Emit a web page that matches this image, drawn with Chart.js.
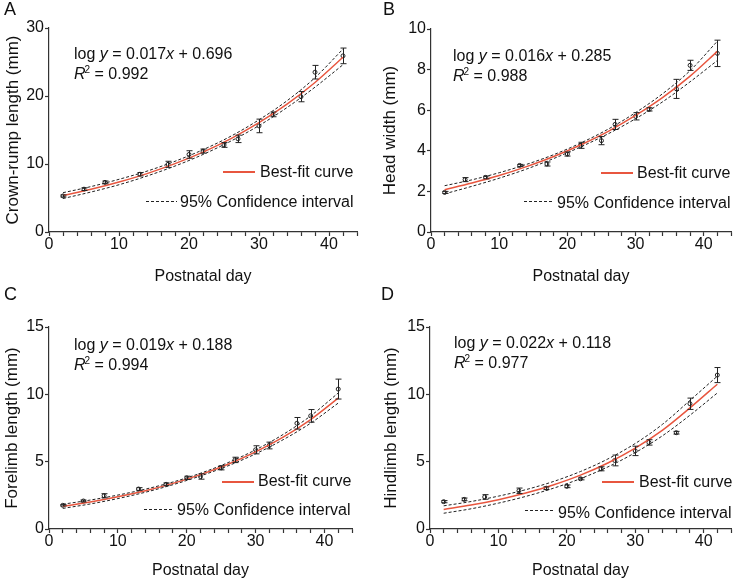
<!DOCTYPE html>
<html>
<head>
<meta charset="utf-8">
<script src="https://cdn.jsdelivr.net/npm/chart.js@4.4.1/dist/chart.umd.min.js"></script>
<style>
  body { margin: 0; background: #fff; }
  #wrap { position: relative; width: 736px; height: 580px; font-family: "Liberation Sans", Arial, sans-serif; color: #111; }
  canvas { position: absolute; }
  .txt { position: absolute; font-size: 16px; line-height: 18px; white-space: nowrap; }
  .letter { position: absolute; font-size: 18px; line-height: 20px; }
  .red { position: absolute; height: 2px; background: #e8563f; }
  .dash { position: absolute; height: 1px; background: repeating-linear-gradient(90deg, #222 0 3px, transparent 3px 5px); }
  sup { font-size: 10px; vertical-align: 6px; line-height: 0; margin-left: -1px; }
</style>
</head>
<body>
<div id="wrap"></div>
<script>
// postnatal days of the measurements
const days = [2, 5, 8, 13, 17, 20, 22, 25, 27, 30, 32, 36, 38, 42];
// days where the fitted curves are sampled
const fitDays = [2, 6, 10, 14, 18, 22, 26, 30, 34, 38, 42];

// A - crown-rump length
const crMean = [5.3, 6.3, 7.3, 8.5, 9.95, 11.4, 11.9, 12.8, 13.7, 15.6, 17.3, 19.9, 23.5, 25.9];
const crErr = [0.15, 0.2, 0.2, 0.25, 0.45, 0.55, 0.3, 0.35, 0.55, 1.0, 0.35, 0.75, 1.0, 1.15];
const crFit = [5.37, 6.28, 7.35, 8.59, 10.05, 11.75, 13.74, 16.07, 18.79, 21.98, 25.7];
const crUpper = [5.78, 6.68, 7.75, 8.95, 10.4, 12.1, 14.1, 16.5, 19.3, 22.7, 26.9];
const crLower = [4.92, 5.88, 6.95, 8.23, 9.7, 11.4, 13.38, 15.65, 18.3, 21.3, 24.6];

// B - head width
const hwMean = [1.95, 2.58, 2.69, 3.28, 3.35, 3.84, 4.27, 4.5, 5.3, 5.7, 6.04, 7.05, 8.21, 8.8];
const hwErr = [0.05, 0.1, 0.07, 0.05, 0.1, 0.1, 0.15, 0.2, 0.25, 0.18, 0.08, 0.47, 0.25, 0.65];
const hwFit = [2.08, 2.41, 2.78, 3.22, 3.72, 4.3, 4.96, 5.74, 6.63, 7.68, 8.9];
const hwUpper = [2.28, 2.57, 2.92, 3.33, 3.81, 4.39, 5.07, 5.88, 6.82, 7.95, 9.4];
const hwLower = [1.88, 2.25, 2.65, 3.1, 3.62, 4.2, 4.84, 5.58, 6.42, 7.4, 8.45];

// C - forelimb length
const flMean = [1.76, 2.08, 2.47, 2.97, 3.32, 3.8, 3.9, 4.54, 5.13, 5.88, 6.2, 7.85, 8.4, 10.39];
const flErr = [0.05, 0.07, 0.15, 0.1, 0.1, 0.12, 0.2, 0.15, 0.2, 0.3, 0.25, 0.43, 0.47, 0.74];
const flFit = [1.68, 2.0, 2.39, 2.84, 3.39, 4.04, 4.81, 5.73, 6.82, 8.13, 9.72];
const flUpper = [1.84, 2.15, 2.52, 2.96, 3.49, 4.14, 4.93, 5.88, 7.02, 8.4, 10.1];
const flLower = [1.53, 1.86, 2.26, 2.73, 3.29, 3.94, 4.69, 5.58, 6.63, 7.86, 9.35];

// D - hindlimb length
const hlMean = [2.03, 2.2, 2.38, 2.84, 3.03, 3.17, 3.73, 4.47, 5.09, 5.8, 6.43, 7.15, 9.3, 11.43];
const hlErr = [0.08, 0.1, 0.17, 0.2, 0.1, 0.1, 0.08, 0.15, 0.4, 0.35, 0.2, 0.1, 0.42, 0.56];
const hlFit = [1.45, 1.78, 2.18, 2.67, 3.27, 4.0, 4.9, 6.0, 7.34, 8.99, 10.75];
const hlUpper = [1.72, 2.04, 2.44, 2.92, 3.52, 4.27, 5.2, 6.35, 7.78, 9.55, 11.35];
const hlLower = [1.17, 1.5, 1.92, 2.42, 3.02, 3.74, 4.61, 5.67, 6.93, 8.45, 10.1];

const yTicksA = [0, 10, 20, 30];
const yTicksB = [0, 2, 4, 6, 8, 10];
const yTicksCD = [0, 5, 10, 15];

const axisColor = '#333';
const textColor = '#111';
const fitColor = '#e8563f';
const fontFamily = '"Liberation Sans", Arial, sans-serif';

const panels = [
  { id: 'A', cell: [0, 0], area: { left: 49, right: 357, top: 28, bottom: 232 }, ytitle: 'Crown-rump length (mm)', ytPad: 3, xtPad: 4,
    yTicks: yTicksA, mean: crMean, err: crErr, fit: crFit, upper: crUpper, lower: crLower,
    eq: ['0.017', '0.696', '0.992'], eqPos: [74, 45], letterPos: [4, -1],
    leg: { red: [223, 171, 32], redTxt: [260, 163], dash: [146, 201, 31], dashTxt: [180, 193] } },
  { id: 'B', cell: [368, 0], area: { left: 63, right: 367, top: 29, bottom: 232 }, ytitle: 'Head width (mm)', ytPad: 12, xtPad: 4,
    yTicks: yTicksB, mean: hwMean, err: hwErr, fit: hwFit, upper: hwUpper, lower: hwLower,
    eq: ['0.016', '0.285', '0.988'], eqPos: [453, 47], letterPos: [383, -1],
    leg: { red: [601, 172, 32], redTxt: [637, 164], dash: [524, 201, 29], dashTxt: [557, 194] } },
  { id: 'C', cell: [0, 290], area: { left: 49, right: 352, top: 37, bottom: 239 }, ytitle: 'Forelimb length (mm)', ytPad: 2, xtPad: 0,
    yTicks: yTicksCD, mean: flMean, err: flErr, fit: flFit, upper: flUpper, lower: flLower,
    eq: ['0.019', '0.188', '0.994'], eqPos: [74, 336], letterPos: [4, 284],
    leg: { red: [222, 481, 32], redTxt: [258, 472], dash: [144, 509, 29], dashTxt: [177, 501] } },
  { id: 'D', cell: [368, 290], area: { left: 62, right: 367, top: 37, bottom: 239 }, ytitle: 'Hindlimb length (mm)', ytPad: 13, xtPad: 0,
    yTicks: yTicksCD, mean: hlMean, err: hlErr, fit: hlFit, upper: hlUpper, lower: hlLower,
    eq: ['0.022', '0.118', '0.977'], eqPos: [454, 334], letterPos: [381, 284],
    leg: { red: [602, 481, 32], redTxt: [639, 473], dash: [525, 510, 30], dashTxt: [558, 504] } }
];

// vertical error bars with caps, drawn from the dataset's errors array
const errorBars = {
  id: 'errorBars',
  afterDatasetsDraw(chart) {
    const { ctx, scales: { x, y } } = chart;
    chart.data.datasets.forEach(ds => {
      if (!ds.errors) return;
      ctx.save();
      ctx.strokeStyle = '#222';
      ctx.lineWidth = 1;
      ds.data.forEach((p, j) => {
        const px = Math.round(x.getPixelForValue(p.x)) + 0.5;
        const top = y.getPixelForValue(p.y + ds.errors[j]);
        const bot = y.getPixelForValue(p.y - ds.errors[j]);
        ctx.beginPath();
        ctx.moveTo(px, top); ctx.lineTo(px, bot);
        ctx.moveTo(px - 3, top); ctx.lineTo(px + 3, top);
        ctx.moveTo(px - 3, bot); ctx.lineTo(px + 3, bot);
        ctx.stroke();
      });
      ctx.restore();
    });
  }
};

const wrap = document.getElementById('wrap');

function addDiv(cls, left, top, html, width) {
  const d = document.createElement('div');
  d.className = cls;
  d.style.left = left + 'px';
  d.style.top = top + 'px';
  if (width) d.style.width = width + 'px';
  if (html) d.innerHTML = html;
  wrap.appendChild(d);
}

function pts(xs, ys) {
  return xs.map((x, i) => ({ x: x, y: ys[i] }));
}

panels.forEach(p => {
  const cv = document.createElement('canvas');
  cv.width = 368; cv.height = 290;
  cv.style.left = p.cell[0] + 'px';
  cv.style.top = p.cell[1] + 'px';
  wrap.appendChild(cv);

  const a = p.area;
  const yMax = p.yTicks[p.yTicks.length - 1];
  const yStep = p.yTicks[1] - p.yTicks[0];
  const curve = { pointRadius: 0, fill: false, cubicInterpolationMode: 'monotone' };

  new Chart(cv, {
    type: 'line',
    data: {
      datasets: [
        Object.assign({ data: pts(fitDays, p.upper), borderColor: '#222', borderWidth: 1, borderDash: [3, 2] }, curve),
        Object.assign({ data: pts(fitDays, p.lower), borderColor: '#222', borderWidth: 1, borderDash: [3, 2] }, curve),
        Object.assign({ data: pts(fitDays, p.fit), borderColor: fitColor, borderWidth: 1.5 }, curve),
        { data: pts(days, p.mean), errors: p.err, showLine: false, pointRadius: 2, pointBorderWidth: 1,
          pointBackgroundColor: '#fff', pointBorderColor: '#222' }
      ]
    },
    options: {
      responsive: false,
      animation: false,
      layout: { padding: { left: 0, top: a.top, right: 368 - a.right, bottom: 0 } },
      plugins: { legend: { display: false }, tooltip: { enabled: false } },
      scales: {
        x: {
          type: 'linear', min: 0, max: 44,
          afterFit: s => { s.height = 290 - a.bottom; },
          border: { color: axisColor, width: 1.2 },
          grid: { drawOnChartArea: false, tickLength: 4, tickColor: axisColor, tickWidth: 1.2 },
          ticks: { stepSize: 2, autoSkip: false, maxRotation: 0, padding: -1, color: textColor,
            font: { family: fontFamily, size: 16 },
            callback: v => (v % 10 === 0 ? v : '') },
          title: { display: true, text: 'Postnatal day', color: textColor,
            font: { family: fontFamily, size: 16 }, padding: { top: 0, bottom: p.xtPad } }
        },
        y: {
          min: 0, max: yMax,
          afterFit: s => { s.width = a.left; },
          border: { color: axisColor, width: 1.2 },
          grid: { drawOnChartArea: false, tickLength: 4, tickColor: axisColor, tickWidth: 1.2 },
          ticks: { stepSize: yStep, padding: 1, color: textColor, font: { family: fontFamily, size: 16 } },
          title: { display: true, text: p.ytitle, color: textColor,
            font: { family: fontFamily, size: 17 }, padding: { top: p.ytPad, bottom: 0 } }
        }
      }
    },
    plugins: [errorBars]
  });

  addDiv('letter', p.letterPos[0], p.letterPos[1], p.id);
  addDiv('txt', p.eqPos[0], p.eqPos[1], 'log <i>y</i> = ' + p.eq[0] + '<i>x</i> + ' + p.eq[1]);
  addDiv('txt', p.eqPos[0], p.eqPos[1] + 20, '<i>R</i><sup>2</sup> = ' + p.eq[2]);
  addDiv('red', p.leg.red[0], p.leg.red[1], '', p.leg.red[2]);
  addDiv('txt', p.leg.redTxt[0], p.leg.redTxt[1], 'Best-fit curve');
  addDiv('dash', p.leg.dash[0], p.leg.dash[1], '', p.leg.dash[2]);
  addDiv('txt', p.leg.dashTxt[0], p.leg.dashTxt[1], '95% Confidence interval');
});
</script>
</body>
</html>
